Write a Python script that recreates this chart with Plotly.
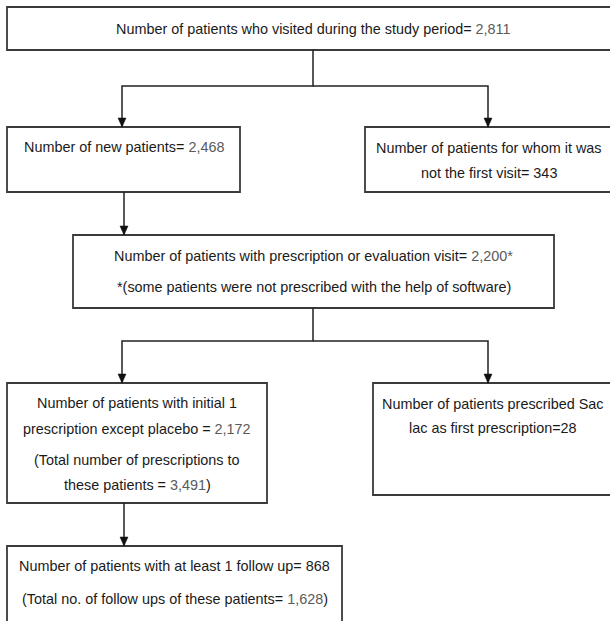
import plotly.graph_objects as go

# ---- data (counts shown in the flowchart) ----
visited_total = 2811
new_patients = 2468
repeat_patients = 343
prescribed_or_evaluated = 2200
initial_prescription = 2172
total_prescriptions = 3491
saclac_first = 28
followup_patients = 868
total_followups = 1628

GREY = "#5a5a5a"


def n(v, grey=True, suffix=""):
    s = f"{v:,}{suffix}"
    return f"<span style='color:{GREY}'>{s}</span>" if grey else s


box_lines = [
    [f"Number of patients who visited during the study period= {n(visited_total)}"],
    [f"Number of new patients= {n(new_patients)}"],
    ["Number of patients for whom it was", f"not the first visit= {n(repeat_patients, False)}"],
    [f"Number of patients with prescription or evaluation visit= {n(prescribed_or_evaluated, True, '*')}",
     "*(some patients were not prescribed with the help of software)"],
    ["Number of patients with initial 1", f"prescription except placebo = {n(initial_prescription)}",
     "(Total number of prescriptions to", f"these patients = {n(total_prescriptions)})"],
    ["Number of patients prescribed Sac", f"lac as first prescription={n(saclac_first, False)}"],
    [f"Number of patients with at least 1 follow up= {n(followup_patients, False)}",
     f"(Total no. of follow ups of these patients= {n(total_followups)})"],
]

# ---- layout geometry (diagram coordinates) ----
box_rects = [
    (7, 620, 7, 50),
    (7, 240, 127, 192),
    (365, 612, 127, 192),
    (73, 554, 235, 308),
    (7, 267, 383, 503),
    (373, 613, 383, 495),
    (7, 342, 546, 650),
]
line_y = [
    [29],
    [147],
    [148, 173],
    [256, 287],
    [403, 429, 460, 485],
    [404, 428],
    [566, 599],
]
connectors = [
    [(313, 50), (313, 86), (122, 86), (122, 127)],
    [(313, 86), (488, 86), (488, 127)],
    [(124, 192), (124, 235)],
    [(313, 308), (313, 341), (122, 341), (122, 383)],
    [(313, 341), (488, 341), (488, 383)],
    [(124, 503), (124, 546)],
]

fig = go.Figure()
shapes = []
annotations = []

for (x0, x1, y0, y1) in box_rects:
    shapes.append(dict(type="rect", xref="x", yref="y", x0=x0, x1=x1, y0=y0, y1=y1,
                       line=dict(color="#3a3a3a", width=1.8), fillcolor="rgba(0,0,0,0)"))

for pts in connectors:
    path = "M " + " L ".join(f"{x},{y}" for x, y in pts)
    shapes.append(dict(type="path", xref="x", yref="y", path=path,
                       line=dict(color="#222222", width=1.5)))
    tx, ty = pts[-1]
    tri = f"M {tx},{ty} L {tx-4},{ty-9} L {tx+4},{ty-9} Z"
    shapes.append(dict(type="path", xref="x", yref="y", path=tri,
                       line=dict(color="#111111", width=0.5), fillcolor="#111111"))

for (x0, x1, y0, y1), lines, ys in zip(box_rects, box_lines, line_y):
    cx = (x0 + min(x1, 621)) / 2 if x1 <= 610 else (x0 + x1) / 2
    for txt, y in zip(lines, ys):
        annotations.append(dict(x=cx, y=y, xref="x", yref="y", text=txt, showarrow=False,
                                xanchor="center", yanchor="middle",
                                font=dict(family="Liberation Sans, Arial, sans-serif",
                                          size=14.4, color="#1a1a1a")))

fig.update_layout(
    width=610, height=621, autosize=False,
    margin=dict(l=0, r=0, t=0, b=0),
    paper_bgcolor="white", plot_bgcolor="white",
    xaxis=dict(range=[0, 610], visible=False, fixedrange=True),
    yaxis=dict(range=[621, 0], visible=False, fixedrange=True),
    shapes=shapes, annotations=annotations, showlegend=False,
)

fig.write_html("out.html", config={"displayModeBar": False},
               post_script="document.body.style.margin='0';document.body.style.overflow='hidden';")
